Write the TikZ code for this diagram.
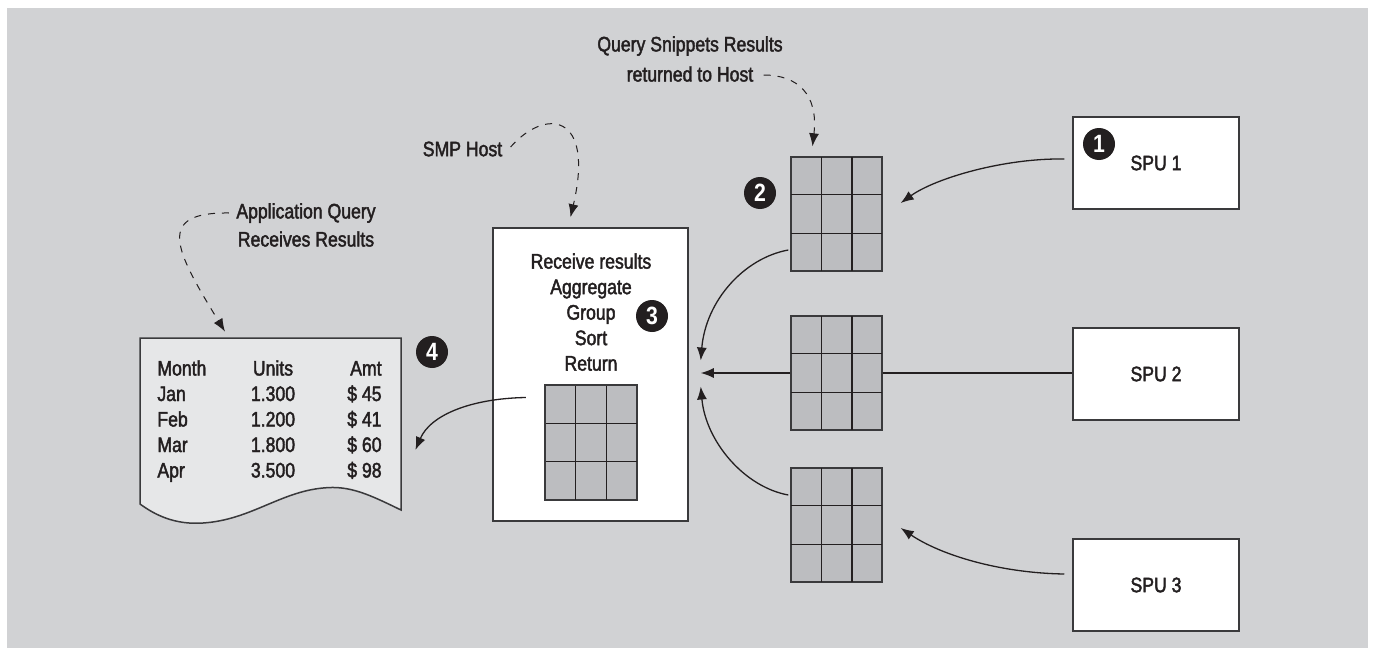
\documentclass[tikz,border=0pt]{standalone}
\usepackage{fontspec}
\setmainfont{Liberation Sans}[FakeStretch=0.84, FakeBold=2]
\newfontfamily\badgefont{Liberation Sans Bold}[FakeStretch=0.85]
\usetikzlibrary{arrows.meta,calc}
\definecolor{bg}{HTML}{D1D2D4}
\definecolor{cellgray}{HTML}{BCBDC0}
\definecolor{paper}{HTML}{E6E7E8}
\definecolor{ink}{HTML}{231F20}
\definecolor{frame}{HTML}{3A3A3C}

% a 3x3 block of result cells
\newcommand\cellgrid[2]{%
  \node[cellblock] (#1) at (#2) {};
  \foreach \f in {1,2} {
    \draw[cellrule] ($(#1.north west)!\f/3!(#1.north east)$) -- ($(#1.south west)!\f/3!(#1.south east)$);
    \draw[cellrule] ($(#1.north west)!\f/3!(#1.south west)$) -- ($(#1.north east)!\f/3!(#1.south east)$);
  }
  \draw[draw=frame, line width=0.7pt] (#1.north west) rectangle (#1.south east);
}

\begin{document}
\begin{tikzpicture}[x=0.5pt,y=-0.5pt,
  font=\fontsize{10.5}{12.75}\selectfont,
  whitebox/.style={draw=frame, line width=0.75pt, fill=white, inner sep=0pt, text=ink},
  spubox/.style={whitebox, minimum width=83pt, minimum height=46pt},
  cellblock/.style={draw=frame, line width=0.7pt, fill=cellgray, minimum width=45.5pt, minimum height=57pt, inner sep=0pt},
  cellrule/.style={draw=ink, line width=0.6pt},
  badgedot/.style={circle, fill=ink, text=white, minimum size=16pt, inner sep=0pt, font=\badgefont\fontsize{12.5}{12.5}\selectfont},
  flowarrow/.style={draw=ink, line width=0.65pt, -{Latex[length=6.5pt,width=5pt]}},
  callout/.style={draw=ink, line width=0.5pt, dash pattern=on 3.5pt off 3.5pt, -{Latex[length=6.5pt,width=5pt]}},
  textlbl/.style={inner sep=0pt, text=ink},
]
\useasboundingbox (0,0) rectangle (1373,648);
\fill[white] (0,0) rectangle (1373,648);
\fill[bg] (7,8) rectangle (1368,648);

% storage processing units
\node[spubox] (spu1) at (1156,163) {SPU 1};
\node[spubox] (spu2) at (1156,374) {SPU 2};
\node[spubox] (spu3) at (1156,585) {SPU 3};
\node[badgedot] (b1) at (1099,144) {1};

% snippet results
\cellgrid{g1}{836.5,214}
\cellgrid{g2}{836.5,373}
\cellgrid{g3}{836.5,525}
\node[badgedot] (b2) at (760,193) {2};

% SMP host
\node[whitebox, minimum width=97.5pt, minimum height=146.5pt] (host) at (590.5,374.5) {};
\node[textlbl, anchor=north, align=center] (steps) at (591,253) {Receive results\\Aggregate\\Group\\Sort\\Return};
\cellgrid{hg}{591,442.5}
\node[badgedot] (b3) at (652,316) {3};

% result report
\node[inner sep=0pt, minimum width=130.5pt, minimum height=93pt] (doc) at (270.5,431) {};
\draw[fill=paper, draw=frame, line width=0.75pt]
  (140,338) -- (401,338) -- (401,510)
  .. controls (370,495) and (350,485) .. (323,488)
  .. controls (280,492) and (250,520) .. (203,523)
  .. controls (175,525) and (155,515) .. (140,504) -- cycle;
\foreach \m/\u/\a [count=\i from 0] in {Month/Units/Amt, Jan/1.300/\$ 45, Feb/1.200/\$ 41, Mar/1.800/\$ 60, Apr/3.500/\$ 98} {
  \node[textlbl, anchor=base west] (m\i) at (157,375.5+25.5*\i) {\m};
  \node[textlbl, anchor=base] (u\i) at (273,375.5+25.5*\i) {\u};
  \node[textlbl, anchor=base east] (a\i) at (382,375.5+25.5*\i) {\a};
}
\node[badgedot] (b4) at (432,352) {4};

% annotations
\node[textlbl] (qa) at (690,46) {Query Snippets Results};
\node[textlbl] (qb) at (690,74) {returned to Host};
\node[textlbl] (smp) at (462.5,149) {SMP Host};
\node[textlbl] (aa) at (306,213) {Application Query};
\node[textlbl] (ab) at (306,239) {Receives Results};

% data flow
\coordinate (t2) at ($(host.east)+(12,-1.5)$);
\draw[flowarrow] ($(spu1.west)+(-8,-4)$) .. controls +(-60,-1) and +(35,-25) .. ($(g1.east)+(18,-11)$);
\draw[flowarrow] ($(spu3.west)+(-8,-11)$) .. controls +(-65,-1) and +(40,27) .. ($(g3.east)+(18,3)$);
\draw[draw=ink, line width=0.65pt] (g2.east) -- (g2.east -| spu2.west);
\draw[flowarrow] ($(g1.west)+(-2,36)$) .. controls +(-44,8) and +(5,-60) .. ($(host.east)+(12,-14)$);
\draw[flowarrow] (g2.west) -- (g2.west -| t2);
\draw[flowarrow] ($(g3.west)+(-2,-30)$) .. controls +(-44,-8) and +(5,55) .. ($(host.east)+(12,12)$);
\draw[flowarrow] ($(hg.west)+(-19,-45)$) .. controls +(-55,1) and +(15,-35) .. ($(doc.east)+(14,19)$);

% callouts
\draw[callout] ($(qb.east)+(10,1)$) .. controls +(34,0) and +(6,-52) .. ($(g1.north)+(-24,-10)$);
\draw[callout] ($(smp.east)+(8,-2)$) .. controls (545,108) and (595,112) .. ($(host.north)+(-20,-10)$);
\draw[callout] ($(aa.west)+(-7,0)$) .. controls (155,212) and (175,250) .. ($(doc.north)+(-45.5,-6)$);
\end{tikzpicture}
\end{document}
